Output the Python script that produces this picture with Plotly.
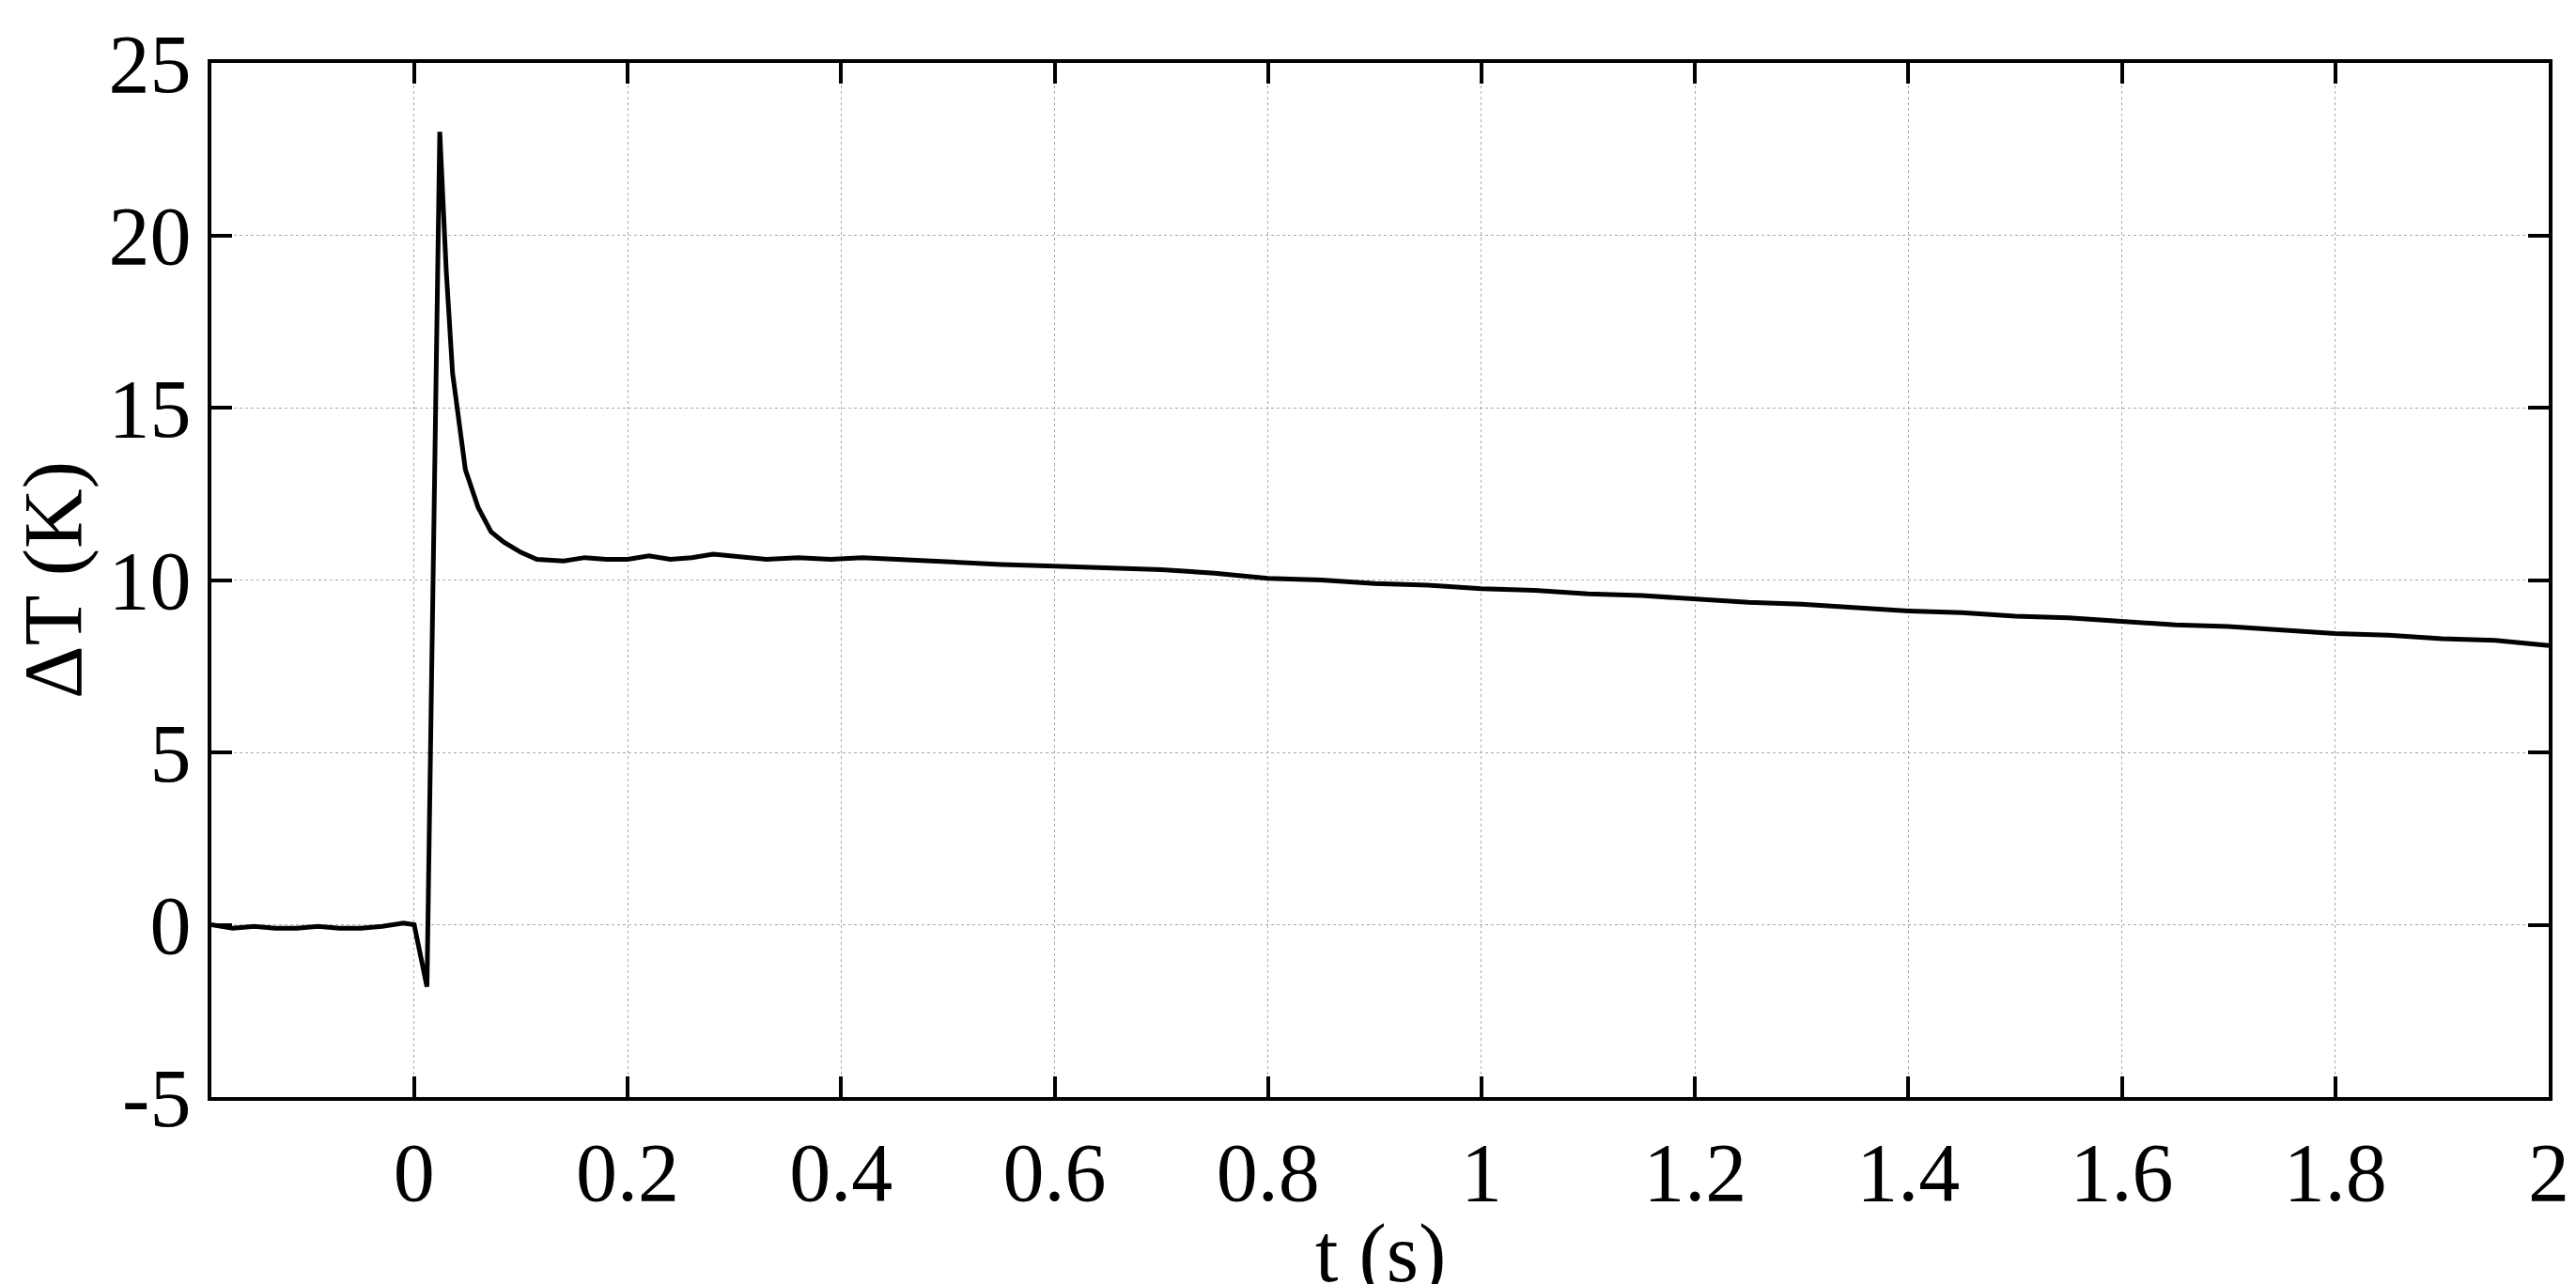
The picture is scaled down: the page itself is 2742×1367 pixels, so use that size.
import plotly.graph_objects as go

t = [-0.19, -0.17, -0.15, -0.13, -0.11, -0.09, -0.07, -0.05, -0.03, -0.01, 0.0, 0.012, 0.024, 0.03, 0.036, 0.048, 0.06, 0.072, 0.084, 0.1, 0.115, 0.14, 0.16, 0.18, 0.2, 0.22, 0.24, 0.26, 0.28, 0.3, 0.33, 0.36, 0.39, 0.42, 0.45, 0.48, 0.5, 0.55, 0.6, 0.65, 0.7, 0.75, 0.8, 0.85, 0.9, 0.95, 1.0, 1.05, 1.1, 1.15, 1.2, 1.25, 1.3, 1.35, 1.4, 1.45, 1.5, 1.55, 1.6, 1.65, 1.7, 1.75, 1.8, 1.85, 1.9, 1.95, 2.0]
dT = [0.0, -0.1, -0.05, -0.1, -0.1, -0.05, -0.1, -0.1, -0.05, 0.05, 0.0, -1.8, 23.0, 19.0, 16.0, 13.2, 12.1, 11.4, 11.1, 10.8, 10.6, 10.55, 10.65, 10.6, 10.6, 10.7, 10.6, 10.65, 10.75, 10.7, 10.6, 10.65, 10.6, 10.65, 10.6, 10.55, 10.5, 10.45, 10.4, 10.35, 10.3, 10.2, 10.05, 10.0, 9.9, 9.85, 9.75, 9.7, 9.6, 9.55, 9.45, 9.35, 9.3, 9.2, 9.1, 9.05, 8.95, 8.9, 8.8, 8.7, 8.65, 8.55, 8.45, 8.4, 8.3, 8.25, 8.1]

x_ticks = [0, 0.2, 0.4, 0.6, 0.8, 1.0, 1.2, 1.4, 1.6, 1.8, 2.0]
x_labels = ["0", "0.2", "0.4", "0.6", "0.8", "1", "1.2", "1.4", "1.6", "1.8", "2"]
y_ticks = [-5, 0, 5, 10, 15, 20, 25]
y_labels = ["-5", "0", "5", "10", "15", "20", "25"]

fig = go.Figure(go.Scatter(x=t, y=dT, mode="lines", line=dict(color="black", width=5)))
font = dict(family="Liberation Serif", size=88, color="black")
axis = dict(showline=True, linecolor="black", linewidth=4, mirror="ticks", ticks="inside",
            ticklen=22, tickwidth=4, tickcolor="black", showgrid=True, gridcolor="#aaaaaa",
            griddash="dot", gridwidth=1, zeroline=False, tickfont=font)
fig.update_layout(
    width=2742, height=1367, paper_bgcolor="white", plot_bgcolor="white",
    margin=dict(l=217, r=37, t=55, b=207), showlegend=False,
    xaxis=dict(range=[-0.19, 2.0], tickvals=x_ticks, ticktext=x_labels, **axis),
    yaxis=dict(range=[-5, 25], tickvals=y_ticks, ticktext=y_labels,
               title=dict(text="ΔT (K)", font=font, standoff=10), **axis),
    annotations=[dict(text="t (s)", xref="paper", yref="paper", x=0.5, y=-0.151,
                      xanchor="center", yanchor="middle", showarrow=False, font=font)],
)
fig.write_html("out.html")
